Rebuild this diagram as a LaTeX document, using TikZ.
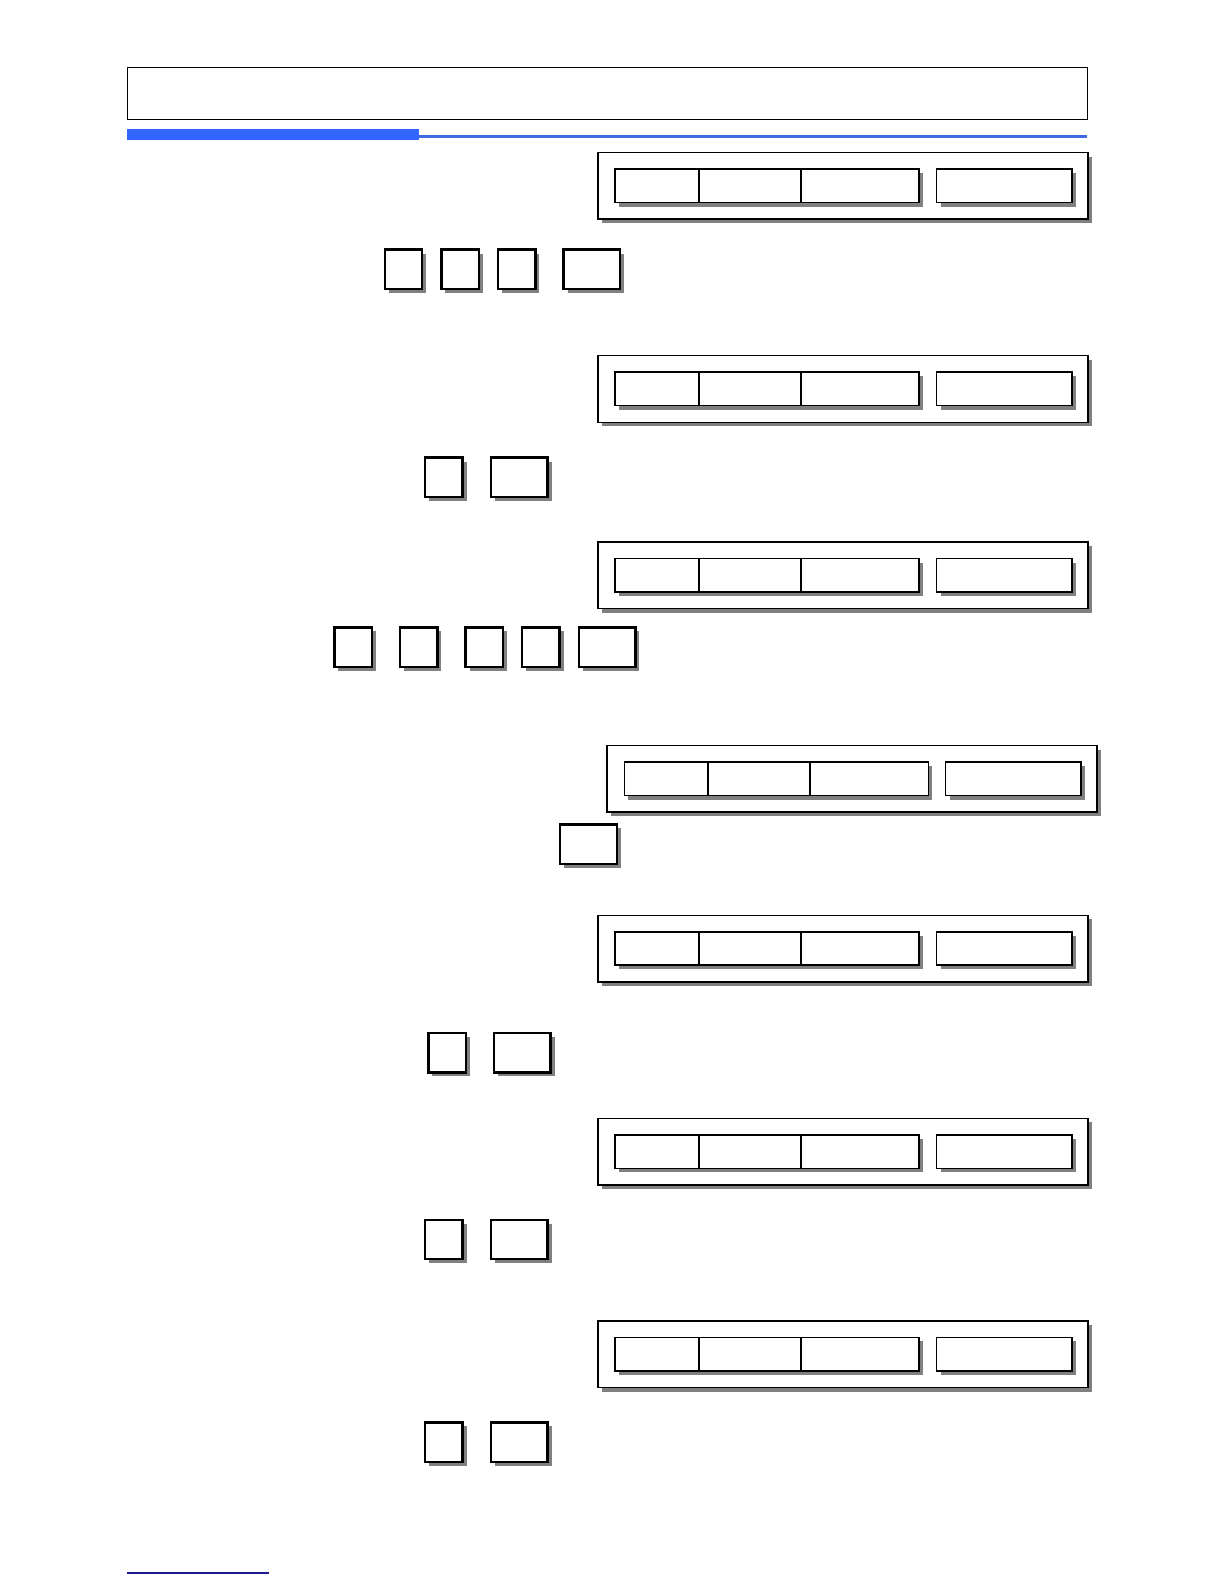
\documentclass[tikz,border=0pt]{standalone}
\usepackage{tikz}
\usetikzlibrary{positioning,shadows}
\definecolor{barblue}{HTML}{3366FF}
\definecolor{lineblue}{HTML}{4169E1}
\definecolor{footblue}{HTML}{1A1A8C}
\tikzstyle{shad}=[drop shadow={shadow xshift=2pt, shadow yshift=-2pt, fill=black!50, opacity=1}]
\tikzstyle{header}=[draw, line width=0.5pt, inner sep=0pt, minimum width=479.8pt, minimum height=25.8pt]
\tikzstyle{panel}=[draw, fill=white, line width=0.7pt, inner sep=0pt, outer sep=0pt, minimum width=244.9pt, minimum height=33.3pt, shad]
\tikzstyle{seg}=[draw, fill=white, line width=0.85pt, inner sep=0pt, outer sep=0pt, minimum height=16.7pt, shad]
\tikzstyle{keybox}=[draw, fill=white, line width=1.2pt, inner sep=0pt, minimum width=18.7pt, minimum height=19.7pt, shad]
\tikzstyle{widekey}=[keybox, minimum width=28.3pt]

\begin{document}
\begin{tikzpicture}[x=0.505pt,y=-0.505pt]
\useasboundingbox (0,0) rectangle (1212,1568);

% title frame and blue rule
\node[header] (title) at (601,92.5) {};
\fill[barblue] (126,128) rectangle (415,139);
\draw[lineblue, line width=1.5pt] (415,135.5) -- (1076,135.5);

% display 1
\node[panel] (disp1) at (834.5,184) {};
\node[seg, minimum width=41.9pt, right=8.6pt of disp1.west] (disp1a) {};
\node[seg, minimum width=51pt, right=0pt of disp1a] (disp1b) {};
\node[seg, minimum width=59.1pt, right=0pt of disp1b] (disp1c) {};
\node[seg, minimum width=67.7pt, right=8.6pt of disp1c] (disp1d) {};

\node[keybox] (kA1) at (399.5,266.5) {};
\node[keybox] (kA2) at (455.5,266.5) {};
\node[keybox] (kA3) at (511.5,266.5) {};
\node[widekey] (kA4) at (586,266.5) {};

% display 2
\node[panel] (disp2) at (834.5,385) {};
\node[seg, minimum width=41.9pt, right=8.6pt of disp2.west] (disp2a) {};
\node[seg, minimum width=51pt, right=0pt of disp2a] (disp2b) {};
\node[seg, minimum width=59.1pt, right=0pt of disp2b] (disp2c) {};
\node[seg, minimum width=67.7pt, right=8.6pt of disp2c] (disp2d) {};

\node[keybox] (kB1) at (439.5,472.5) {};
\node[widekey] (kB2) at (514,472.5) {};

% display 3
\node[panel] (disp3) at (834.5,569.5) {};
\node[seg, minimum width=41.9pt, right=8.6pt of disp3.west] (disp3a) {};
\node[seg, minimum width=51pt, right=0pt of disp3a] (disp3b) {};
\node[seg, minimum width=59.1pt, right=0pt of disp3b] (disp3c) {};
\node[seg, minimum width=67.7pt, right=8.6pt of disp3c] (disp3d) {};

\node[keybox] (kC1) at (349.5,640.5) {};
\node[keybox] (kC2) at (414.5,640.5) {};
\node[keybox] (kC3) at (479.5,640.5) {};
\node[keybox] (kC4) at (535.5,640.5) {};
\node[widekey] (kC5) at (601,640.5) {};

% display 4
\node[panel] (disp4) at (843.5,771) {};
\node[seg, minimum width=41.9pt, right=8.6pt of disp4.west] (disp4a) {};
\node[seg, minimum width=51pt, right=0pt of disp4a] (disp4b) {};
\node[seg, minimum width=59.1pt, right=0pt of disp4b] (disp4c) {};
\node[seg, minimum width=67.7pt, right=8.6pt of disp4c] (disp4d) {};

\node[widekey] (kD1) at (582.5,835.5) {};

% display 5
\node[panel] (disp5) at (834.5,939) {};
\node[seg, minimum width=41.9pt, right=8.6pt of disp5.west] (disp5a) {};
\node[seg, minimum width=51pt, right=0pt of disp5a] (disp5b) {};
\node[seg, minimum width=59.1pt, right=0pt of disp5b] (disp5c) {};
\node[seg, minimum width=67.7pt, right=8.6pt of disp5c] (disp5d) {};

\node[keybox] (kE1) at (442.5,1042) {};
\node[widekey] (kE2) at (517,1042) {};

% display 6
\node[panel] (disp6) at (834.5,1140) {};
\node[seg, minimum width=41.9pt, right=8.6pt of disp6.west] (disp6a) {};
\node[seg, minimum width=51pt, right=0pt of disp6a] (disp6b) {};
\node[seg, minimum width=59.1pt, right=0pt of disp6b] (disp6c) {};
\node[seg, minimum width=67.7pt, right=8.6pt of disp6c] (disp6d) {};

\node[keybox] (kF1) at (439.5,1227) {};
\node[widekey] (kF2) at (514,1227) {};

% display 7
\node[panel] (disp7) at (834.5,1340.5) {};
\node[seg, minimum width=41.9pt, right=8.6pt of disp7.west] (disp7a) {};
\node[seg, minimum width=51pt, right=0pt of disp7a] (disp7b) {};
\node[seg, minimum width=59.1pt, right=0pt of disp7b] (disp7c) {};
\node[seg, minimum width=67.7pt, right=8.6pt of disp7c] (disp7d) {};

\node[keybox] (kG1) at (439.5,1427.5) {};
\node[widekey] (kG2) at (514,1427.5) {};

% footnote rule
\draw[footblue, line width=1pt] (126,1557) -- (266,1557);
\end{tikzpicture}
\end{document}
